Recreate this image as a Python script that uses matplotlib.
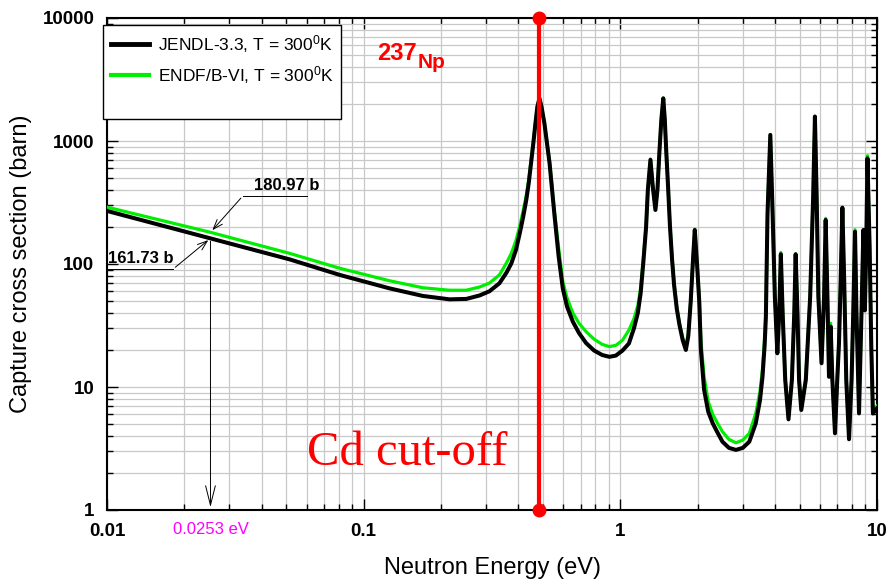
import numpy as np
import matplotlib
matplotlib.use('Agg')
import matplotlib.pyplot as plt
from matplotlib.lines import Line2D

# neutron energy (eV)
energy = [0.01, 0.0253, 0.0515, 0.0807, 0.126, 0.170, 0.216, 0.251, 0.283, 0.309,
          0.338, 0.36, 0.376, 0.392, 0.405, 0.418, 0.430, 0.440, 0.449, 0.458,
          0.467, 0.475, 0.484, 0.493, 0.506, 0.530, 0.553, 0.575, 0.597, 0.62,
          0.653, 0.69, 0.735, 0.79, 0.85, 0.906, 0.96, 1.02, 1.08, 1.13,
          1.17, 1.20, 1.23, 1.26, 1.28, 1.31, 1.34, 1.37, 1.395, 1.42,
          1.445, 1.47, 1.49, 1.51, 1.535, 1.56, 1.59, 1.62, 1.66, 1.70,
          1.75, 1.80, 1.84, 1.88, 1.92, 1.95, 1.99, 2.03, 2.06, 2.12,
          2.2, 2.29, 2.4, 2.5, 2.65, 2.82, 3.0, 3.18, 3.37, 3.5,
          3.58, 3.65, 3.69, 3.745, 3.84, 3.92, 4.0, 4.09, 4.16, 4.22,
          4.29, 4.39, 4.52, 4.66, 4.76, 4.82, 4.90, 4.97, 5.07, 5.28,
          5.49, 5.64, 5.73, 5.82, 5.91, 6.08, 6.22, 6.31, 6.41, 6.50,
          6.60, 6.70, 6.86, 7.0, 7.11, 7.22, 7.33, 7.45, 7.59, 7.78,
          7.96, 8.08, 8.21, 8.32, 8.51, 8.70, 8.85, 8.97, 9.08, 9.18,
          9.36, 9.5, 9.64, 10.0]

# capture cross section (barn), JENDL-3.3
sigma_jendl = [270, 161.73, 109, 81.5, 63.4, 55, 51.6, 52, 55.5, 60,
               69.7, 85, 101, 130, 175, 240, 331, 460, 659, 950,
               1393, 1900, 2220, 1900, 1393, 659, 258, 115, 63, 45,
               34, 27.5, 22.8, 19.8, 18.2, 17.6, 18.0, 19.8, 22.6, 30,
               40, 58, 105, 200, 400, 702, 412, 275, 400, 818,
               1500, 2220, 1500, 818, 420, 207, 110, 67, 43, 31.9,
               24, 20, 26, 49.4, 110, 189, 100, 49.4, 20, 9.5,
               6.3, 5.07, 4.2, 3.59, 3.2, 3.08, 3.2, 3.59, 5.07, 7.8,
               12.1, 22, 37, 258, 1120, 258, 54, 18.8, 39.7, 120,
               39.7, 11.4, 5.46, 11.4, 39.7, 120, 39.7, 11.4, 6.5, 11.4,
               54, 352, 1580, 352, 54, 15.6, 54, 228, 54, 12.1,
               31, 11.4, 4.2, 11.4, 22.6, 74, 287, 74, 11.4, 3.76,
               11.4, 39.7, 183, 39.7, 6.1, 39.7, 189, 42, 138, 723,
               138, 21.3, 6.1, 6.7]

# capture cross section (barn), ENDF/B-VI
sigma_endf = [290, 180.97, 122, 92.3, 73.1, 64.1, 61.2, 61.2, 65, 70,
              81.5, 102, 122, 155, 201, 270, 360, 490, 690, 980,
              1420, 1900, 2220, 1900, 1393, 680, 275, 135, 72, 53,
              40, 33, 28.2, 24.5, 22.2, 21.3, 21.8, 24, 29, 36,
              46, 64, 112, 205, 405, 715, 415, 280, 405, 820,
              1510, 2240, 1510, 820, 425, 210, 113, 69, 44, 33,
              25, 21, 27, 50, 112, 192, 102, 52, 24, 12.1,
              7.6, 6.0, 5.0, 4.33, 3.75, 3.52, 3.7, 4.2, 6.1, 9.2,
              14, 25, 40, 260, 1130, 260, 55, 19.5, 40, 124,
              40, 11.6, 5.6, 11.6, 40, 121, 40, 11.6, 6.7, 11.8,
              55, 355, 1590, 355, 55, 16, 55, 235, 55, 12.4,
              33, 11.6, 4.3, 11.6, 23.5, 75, 290, 75, 11.6, 3.85,
              11.6, 40, 190, 40, 6.3, 40, 190, 43, 140, 760,
              140, 22, 6.3, 7.0]

cd_cutoff = 0.48
e_thermal = 0.0253
xticks = [0.01, 0.1, 1, 10]
xtick_labels = ['0.01', '0.1', '1', '10']
yticks = [1, 10, 100, 1000, 10000]
ytick_labels = ['1', '10', '100', '1000', '10000']

plt.rcParams['font.family'] = ['Liberation Sans', 'DejaVu Sans']
plt.rcParams['mathtext.default'] = 'regular'

green = '#00ee00'

fig = plt.figure(figsize=(8.9, 5.81), dpi=100)
ax = fig.add_axes([107/890, 1 - 510/581, 770/890, 492/581])

ax.plot(energy, sigma_endf, color=green, lw=2.3, zorder=3, solid_joinstyle='round')
ax.plot(energy, sigma_jendl, color='black', lw=2.9, zorder=4, solid_joinstyle='round')

# Cd cut-off line with end dots
ax.plot([cd_cutoff, cd_cutoff], [1, 10000], color='red', lw=3, marker='o',
        ms=9, clip_on=False, zorder=6)

ax.set_xscale('log')
ax.set_yscale('log')
ax.set_xlim(0.01, 10)
ax.set_ylim(1, 10000)
ax.set_xticks(xticks, xtick_labels)
ax.set_yticks(yticks, ytick_labels)
for lab in ax.get_xticklabels() + ax.get_yticklabels():
    lab.set_fontweight('bold')
    lab.set_fontsize(13.5)
ax.tick_params(which='both', direction='in', top=True, right=True, width=1)
ax.tick_params(which='major', length=8, pad=9)
ax.tick_params(which='minor', length=4)
ax.grid(True, which='both', color='#c8c8c8', lw=0.9)
ax.set_axisbelow(True)
for s in ax.spines.values():
    s.set_linewidth(1.5)

ax.set_xlabel('Neutron Energy (eV)', fontsize=17)
ax.set_ylabel('Capture cross section (barn)', fontsize=17)
ax.xaxis.set_label_coords(0.5, -0.096)
ax.yaxis.set_label_coords(-0.098, 0.5)

# legend
handles = [Line2D([], [], color='black', lw=3.5),
           Line2D([], [], color=green, lw=3),
           Line2D([], [], color='none')]
labels = ['JENDL-3.3, T = 300$^0$K', 'ENDF/B-VI, T = 300$^0$K', ' ']
leg = ax.legend(handles, labels, loc='upper left',
                bbox_to_anchor=(103/890, 1 - 25/581), bbox_transform=fig.transFigure,
                fancybox=False, edgecolor='black', framealpha=1, fontsize=12.5,
                handlelength=2.2, handletextpad=0.5, labelspacing=0.55,
                borderpad=0.45, borderaxespad=0)
leg.get_frame().set_linewidth(1.0)

# isotope label
fig.text(377/890, 1 - 60/581, '237', color='red', fontsize=17,
         fontweight='bold', va='baseline')
fig.text(418/890, 1 - 68/581, 'Np', color='red', fontsize=15,
         fontweight='bold', va='baseline')

ax.text(0.06, 2.32, 'Cd cut-off', color='red', fontsize=35,
        family=['Liberation Serif', 'DejaVu Serif'], va='baseline')

# thermal point annotations
arrow_kw = dict(arrowstyle='->, head_length=0.7, head_width=0.25', lw=0.7, color='black')
ax.plot([0.0338, 0.060], [357, 357], color='black', lw=0.7)
ax.annotate('', xy=(e_thermal, 180.97), xytext=(0.0338, 357), arrowprops=arrow_kw)
ax.text(0.0501, 400, '180.97 b', fontsize=12, fontweight='bold', ha='center', va='baseline')

ax.plot([0.01, 0.0181], [91, 91], color='black', lw=0.7)
ax.annotate('', xy=(e_thermal, 161.73), xytext=(0.0181, 91), arrowprops=arrow_kw)
ax.text(0.0136, 102, '161.73 b', fontsize=12, fontweight='bold', ha='center', va='baseline')

ax.annotate('', xy=(e_thermal, 1), xytext=(e_thermal, 161.73),
            arrowprops=dict(arrowstyle='->, head_length=1.4, head_width=0.35',
                            lw=0.7, color='black'))
ax.text(e_thermal, -0.039, '0.0253 eV', color='#ff00ff', fontsize=12,
        ha='center', va='center', transform=ax.get_xaxis_transform())

fig.savefig('out.png', dpi=100)
